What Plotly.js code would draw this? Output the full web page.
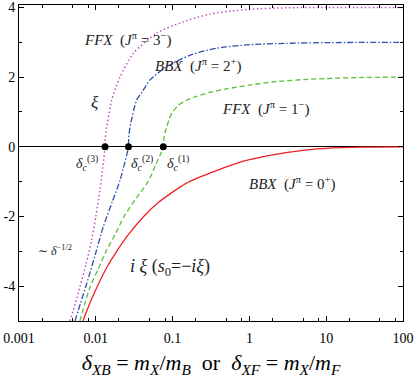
<!DOCTYPE html>
<html>
<head>
<meta charset="utf-8">
<script src="https://cdn.plot.ly/plotly-3.0.1.min.js"></script>
<style>
  html, body { margin: 0; padding: 0; background: #fff; }
  #plot { width: 415px; height: 378px; }
</style>
</head>
<body>
<div id="plot"></div>
<script>
// BBX (J^pi = 0+): i*xi, always negative
var redX = [0.0068, 0.0085, 0.0105, 0.014, 0.0187, 0.027, 0.042, 0.065, 0.1, 0.15, 0.22, 0.3, 0.5, 1, 2, 5, 10, 30, 100];
var redY = [-5.0, -4.45, -4.0, -3.45, -3.0, -2.5, -2.0, -1.6, -1.3, -1.05, -0.88, -0.76, -0.575, -0.37, -0.23, -0.1, -0.045, -0.01, 0];

// FFX (J^pi = 1-)
var greenX = [0.0062, 0.0072, 0.0085, 0.0108, 0.0136, 0.018, 0.0233, 0.033, 0.048, 0.0607, 0.07, 0.0757, 0.077, 0.08, 0.0838, 0.09, 0.1, 0.12, 0.15, 0.2, 0.3, 0.5, 1, 2, 5, 10, 30, 100];
var greenY = [-5.0, -4.5, -4.0, -3.5, -3.0, -2.5, -2.0, -1.5, -1.0, -0.5, -0.2, 0, 0.23, 0.41, 0.57, 0.79, 1.0, 1.2, 1.33, 1.44, 1.56, 1.66, 1.77, 1.86, 1.93, 1.96, 1.99, 2.0];

// BBX (J^pi = 2+)
var blueX = [0.00536, 0.0063, 0.0076, 0.01, 0.0125, 0.0165, 0.0207, 0.0228, 0.025, 0.0266, 0.0268, 0.0279, 0.034, 0.04, 0.0508, 0.0837, 0.169, 0.375, 1, 3, 10, 100];
var blueY = [-5.0, -4.5, -3.93, -3.04, -2.3, -1.56, -0.96, -0.62, -0.28, 0, 0.25, 0.57, 1.34, 1.57, 1.92, 2.3, 2.63, 2.83, 2.93, 2.97, 2.99, 3.0];

// FFX (J^pi = 3-)
var magX = [0.00461, 0.0054, 0.00622, 0.0075, 0.00883, 0.01, 0.01135, 0.0123, 0.0132, 0.0133, 0.01387, 0.0161, 0.0207, 0.0308, 0.062, 0.138, 0.307, 0.6, 1, 3, 10, 100];
var magY = [-5.0, -4.5, -4.02, -3.35, -2.68, -2.0, -1.24, -0.62, 0, 0.25, 0.57, 1.34, 2.01, 2.68, 3.26, 3.59, 3.81, 3.9, 3.95, 3.99, 4.0, 4.0];

// critical points delta_c^(1..3)
var critX = [0.0757, 0.0266, 0.0132];
var critY = [0, 0, 0];

var xTickVals = [0.001, 0.01, 0.1, 1, 10, 100];
var xTickText = ['0.001', '0.01', '0.1', '1', '10', '100'];
var yTickVals = [-4, -2, 0, 2, 4];
var yTickText = ['-4', '-2', '0', '2', '4'];

var xMinor = [];
[0.001, 0.01, 0.1, 1, 10].forEach(function (d) {
    [2, 5, 8].forEach(function (m) { xMinor.push(d * m); });
});

var serif = '"Liberation Serif", "Times New Roman", serif';
var sm = 0.7;

var data = [
    {x: redX, y: redY, mode: 'lines', line: {color: '#f02020', width: 1.3, shape: 'spline', smoothing: sm}},
    {x: greenX, y: greenY, mode: 'lines', line: {color: '#5cbf3a', width: 1.3, dash: '5px,3px', shape: 'spline', smoothing: sm}},
    {x: blueX, y: blueY, mode: 'lines', line: {color: '#3050b0', width: 1.3, dash: '6px,2px,1.5px,2px', shape: 'spline', smoothing: sm}},
    {x: magX, y: magY, mode: 'lines', line: {color: '#c050c0', width: 1.5, dash: '1.5px,2.5px', shape: 'spline', smoothing: sm}},
    {x: critX, y: critY, mode: 'markers', marker: {color: '#000', size: 7}}
];

function L(v) { return Math.log10(v); }

var sp = '\u00a0';
function label(name, j) {
    return '<i>' + name + '</i>' + sp + sp + '(<i>J</i><sup>π</sup>' + sp + '=' + sp + j + ')';
}
var annotations = [
    {x: L(0.0262), y: 3.07, text: label('FFX', '3<sup>−</sup>'), size: 15},
    {x: L(0.214), y: 2.32, text: label('BBX', '2<sup>+</sup>'), size: 15},
    {x: L(0.00977), y: 1.26, text: '<i>ξ</i>', size: 17},
    {x: L(1.6), y: 1.11, text: label('FFX', '1<sup>−</sup>'), size: 15},
    {x: L(0.00767), y: -0.47, text: '<i>δ</i><sub><i>c</i></sub><sup>(3)</sup>', size: 14},
    {x: L(0.04), y: -0.47, text: '<i>δ</i><sub><i>c</i></sub><sup>(2)</sup>', size: 14},
    {x: L(0.1175), y: -0.47, text: '<i>δ</i><sub><i>c</i></sub><sup>(1)</sup>', size: 14},
    {x: L(3.59), y: -1.04, text: label('BBX', '0<sup>+</sup>'), size: 15},
    {x: L(0.0925), y: -3.46, text: '<i>i</i>' + sp + '<i>ξ</i>' + sp + '(<i>s</i><sub>0</sub>=−<i>iξ</i>)', size: 18},
    {x: L(0.00294), y: -2.97, text: '∼' + sp + '<i>δ</i><sup>−1/2</sup>', size: 12}
].map(function (a) {
    return {
        x: a.x, y: a.y, xref: 'x', yref: 'y', text: a.text, showarrow: false,
        xanchor: 'center', yanchor: 'middle',
        font: {family: serif, size: a.size, color: '#222'}
    };
});

var xTitle = '<i>δ</i><sub><i>XB</i></sub>' + sp + '=' + sp + '<i>m</i><sub><i>X</i></sub>/<i>m</i><sub><i>B</i></sub>' +
    sp + sp + 'or' + sp + sp + '<i>δ</i><sub><i>XF</i></sub>' + sp + '=' + sp + '<i>m</i><sub><i>X</i></sub>/<i>m</i><sub><i>F</i></sub>';

var layout = {
    width: 415,
    height: 378,
    margin: {l: 19, r: 12, t: 5, b: 57},
    paper_bgcolor: '#fff',
    plot_bgcolor: '#fff',
    showlegend: false,
    font: {family: serif, size: 13, color: '#000'},
    xaxis: {
        type: 'log',
        range: [-3, 2],
        tickmode: 'array',
        tickvals: xTickVals,
        ticktext: xTickText,
        ticks: 'inside',
        ticklen: 5,
        tickcolor: '#000',
        ticklabelstandoff: 4,
        minor: {tickmode: 'array', tickvals: xMinor, ticks: 'inside', ticklen: 3, tickcolor: '#000'},
        showline: true,
        linecolor: '#000',
        linewidth: 1,
        mirror: 'ticks',
        showgrid: false,
        zeroline: false,
        tickfont: {family: serif, size: 14},
        title: {
            text: xTitle,
            font: {family: serif, size: 22},
            standoff: 22
        }
    },
    yaxis: {
        range: [-5, 4.07],
        tickmode: 'array',
        tickvals: yTickVals,
        ticktext: yTickText,
        ticks: 'inside',
        ticklen: 5,
        tickcolor: '#000',
        minor: {dtick: 1, ticks: 'inside', ticklen: 3, tickcolor: '#000'},
        showline: true,
        linecolor: '#000',
        linewidth: 1,
        mirror: 'ticks',
        showgrid: false,
        zeroline: true,
        zerolinecolor: '#000',
        zerolinewidth: 1.3,
        tickfont: {family: serif, size: 14}
    },
    annotations: annotations
};

Plotly.newPlot('plot', data, layout, {displayModeBar: false});
</script>
</body>
</html>
